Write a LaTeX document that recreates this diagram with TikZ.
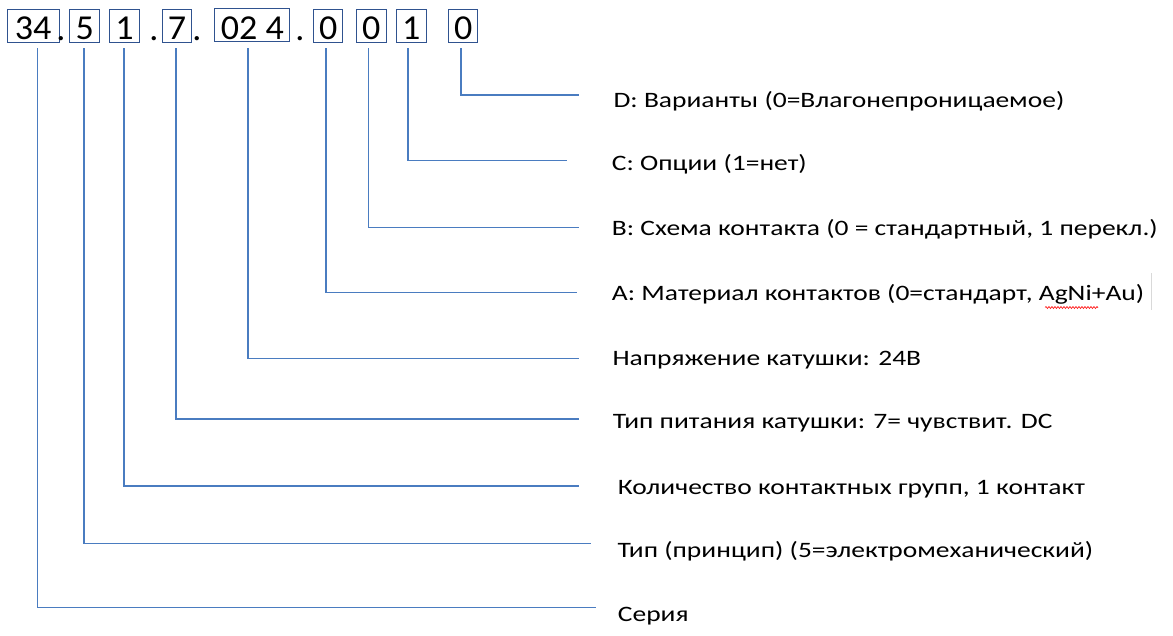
\documentclass[tikz,border=0pt]{standalone}
\usepackage{fontspec}
\setmainfont{Carlito}
\newfontfamily\lblfont[FakeStretch=1.25]{Carlito}
\newfontfamily\digfont[FakeStretch=1.03]{Carlito}
\usetikzlibrary{decorations.pathmorphing}
\definecolor{boxblue}{HTML}{2F528F}
\definecolor{lineblue}{HTML}{4A7CC0}
\begin{document}
\begin{tikzpicture}[x=1pt,y=-1pt,
  digbox/.style={draw=boxblue, line width=1pt, inner sep=0pt, text height=30pt, text depth=3pt, anchor=south west, font=\digfont\fontsize{35}{35}\selectfont},
  dotnode/.style={inner sep=0pt, anchor=base, font=\digfont\fontsize{35}{35}\selectfont},
  lbl/.style={inner sep=0pt, anchor=base west, font=\lblfont\fontsize{22}{22}\selectfont},
  conn/.style={draw=lineblue, line width=1.5pt}]
\useasboundingbox (0,0) rectangle (1173,635);
% code boxes
\node[digbox, minimum width=52pt]   (b34)  at (6.7,43) {34};
\node[dotnode] (d1) at (61,40) {.};
\node[digbox, minimum width=30pt]   (b5)   at (69.3,43) {5};
\node[digbox, minimum width=29.4pt] (b1)   at (109.3,43) {1};
\node[dotnode] (d2) at (154,40) {.};
\node[digbox, minimum width=28.4pt] (b7)   at (162.3,43) {7};
\node[dotnode] (d3) at (197,40) {.};
\node[digbox, minimum width=75pt, text height=30.7pt, text depth=1.7pt] (b024) at (214.3,41.7) {02 4};
\node[dotnode] (d4) at (300,40) {.};
\node[digbox, minimum width=29pt]   (bA)   at (313.3,43) {0};
\node[digbox, minimum width=29.7pt] (bB)   at (356,43) {0};
\node[digbox, minimum width=29.7pt] (bC)   at (396,43) {1};
\node[digbox, minimum width=29pt]   (bD)   at (448.3,43) {0};
% labels
\node[lbl] (lD)  at (613.3,107.3) {D: Варианты (0=Влагонепроницаемое)};
\node[lbl] (lC)  at (611.7,170)   {C: Опции (1=нет)};
\node[lbl] (lB)  at (611.7,235.7) {B: Схема контакта (0 = стандартный, 1 перекл.)};
\node[lbl] (lA)  at (611.7,300)   {A: Материал контактов (0=стандарт, AgNi+Au)};
\node[lbl] (lU)  at (612.3,365)   {Напряжение катушки: 24В};
\node[lbl] (lP)  at (612.7,428.3) {Тип питания катушки: 7= чувствит. DC};
\node[lbl] (lK)  at (617.7,494.3) {Количество контактных групп, 1 контакт};
\node[lbl] (lT)  at (617.3,557.7) {Тип (принцип) (5=электромеханический)};
\node[lbl] (lS)  at (617.7,621.7) {Серия};
% connector start and end points
\coordinate (t34)  at (37.7,48);  \coordinate (e34)  at (596,607.7);
\coordinate (t5)   at (84,48);    \coordinate (e5)   at (590.7,543.3);
\coordinate (t1)   at (124,48);   \coordinate (e1)   at (579,486);
\coordinate (t7)   at (176,48);   \coordinate (e7)   at (579,419);
\coordinate (t024) at (248,48);   \coordinate (e024) at (579,358.3);
\coordinate (tA)   at (326,48);   \coordinate (eA)   at (576.7,292.7);
\coordinate (tB)   at (368.7,48); \coordinate (eB)   at (579,227.7);
\coordinate (tC)   at (408,48);   \coordinate (eC)   at (567,160.7);
\coordinate (tD)   at (461,48);   \coordinate (eD)   at (579,95);
\draw[conn] (t34) |- (e34);
\draw[conn] (t5) |- (e5);
\draw[conn] (t1) |- (e1);
\draw[conn] (t7) |- (e7);
\draw[conn] (t024) |- (e024);
\draw[conn] (tA) |- (eA);
\draw[conn] (tB) |- (eB);
\draw[conn] (tC) |- (eC);
\draw[conn] (tD) |- (eD);
% spell-check squiggle and text box edge
\draw[red, line width=0.6pt, decorate, decoration={snake, amplitude=1pt, segment length=3pt}] (1045,307.5) -- (1098,307.5);
\draw[black!15, line width=0.8pt] (1151.5,273) -- (1151.5,310);
\end{tikzpicture}
\end{document}
